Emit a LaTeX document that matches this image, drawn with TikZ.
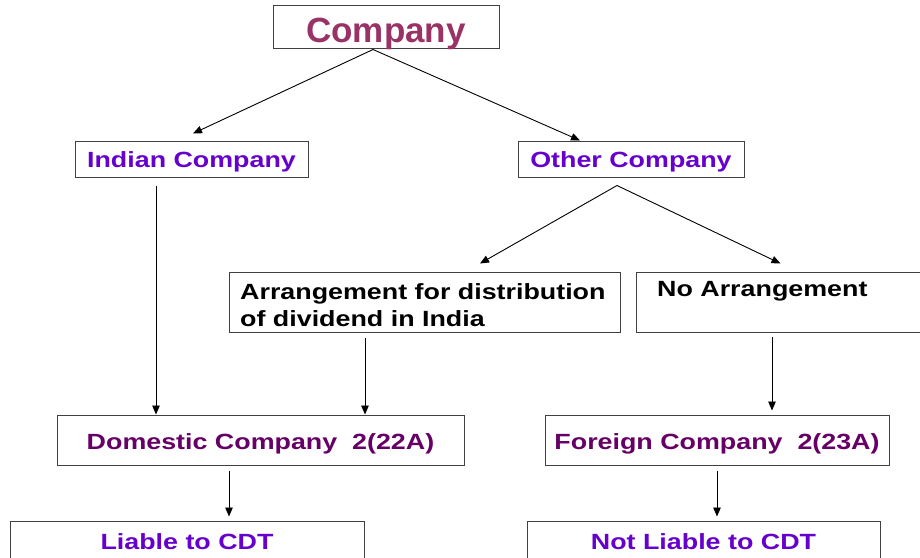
\documentclass[tikz,border=0pt]{standalone}
\usepackage{fontspec}
\setmainfont{Liberation Sans}
\newfontfamily\widefont[FakeStretch=1.22]{Liberation Sans}
\usetikzlibrary{arrows.meta,calc}
\definecolor{cmag}{HTML}{993366}
\definecolor{cpur}{HTML}{6600CC}
\definecolor{cdpur}{HTML}{660066}
\definecolor{cborder}{HTML}{404040}
\begin{document}
\begin{tikzpicture}[x=1pt,y=-1pt,
  box/.style={draw=cborder, line width=1pt, rectangle, inner sep=0pt,
    font=\widefont\bfseries\fontsize{22}{27}\selectfont, text height=16pt, text depth=0pt},
  txt/.style={inner sep=0pt, align=left, anchor=north west,
    font=\widefont\bfseries\fontsize{22}{27}\selectfont},
  arr/.style={-{Triangle[length=9pt,width=7.5pt]}, line width=0.9pt}]
\useasboundingbox (0,0) rectangle (920,557);
\clip (0,0) rectangle (920,557);
\fill[white] (0,0) rectangle (920,557);
\node[box, minimum width=226, minimum height=43, text=cmag,
  font=\bfseries\fontsize{35}{40}\selectfont, text height=31pt] (company) at (386,26.5) {Company};
\node[box, minimum width=233, minimum height=36, text=cpur] (indian) at (191.5,159) {Indian Company};
\node[box, minimum width=226, minimum height=36, text=cpur] (other) at (631,159) {Other Company};
\node[box, minimum width=391, minimum height=60] (arrange) at (425,302) {};
\node[txt] (arrangetext) at ($(arrange.north west)+(11,12)$)
  {Arrangement for distribution\\of dividend in India};
\node[box, minimum width=300, minimum height=60, anchor=west] (noarr) at (636,302) {};
\node[txt] (noarrtext) at ($(noarr.north west)+(21,10)$) {No Arrangement};
\node[box, minimum width=407, minimum height=50, text=cdpur, text height=18pt] (domestic) at (260.5,440) {Domestic Company\ \ 2(22A)};
\node[box, minimum width=344, minimum height=50, text=cdpur, text height=18pt] (foreign) at (717,440) {Foreign Company\ \ 2(23A)};
\node[box, minimum width=354, minimum height=40, text=cpur, text height=17pt] (liable) at (187,541) {Liable to CDT};
\node[box, minimum width=353, minimum height=40, text=cpur, text height=17pt] (notliable) at (703.5,541) {Not Liable to CDT};
% connectors
\coordinate (ctop) at ($(company.south)+(-13,1)$);
\draw[arr] (ctop) -- ($(indian.north)+(1.5,-7)$);
\draw[arr] (ctop) -- ($(other.north)+(-51,0)$);
\coordinate (otop) at ($(other.south)+(-14,8)$);
\draw[arr] (otop) -- ($(arrange.north)+(55,-8)$);
\draw[arr] (otop) -- ($(noarr.north)+(-6,-8)$);
\coordinate (i1) at ($(indian.south)+(-35.5,8)$);
\draw[arr] (i1) -- (i1 |- domestic.north);
\coordinate (a1) at ($(arrange.south)+(-60,5)$);
\draw[arr] (a1) -- (a1 |- domestic.north);
\coordinate (n1) at (772,337);
\draw[arr] (n1) -- ($(n1 |- foreign.north)+(0,-4)$);
\coordinate (d1) at ($(domestic.south)+(-31.5,5)$);
\draw[arr] (d1) -- ($(d1 |- liable.north)+(0,-4)$);
\coordinate (f1) at ($(foreign.south)+(0,5)$);
\draw[arr] (f1) -- ($(f1 |- notliable.north)+(0,-4)$);
\end{tikzpicture}
\end{document}
